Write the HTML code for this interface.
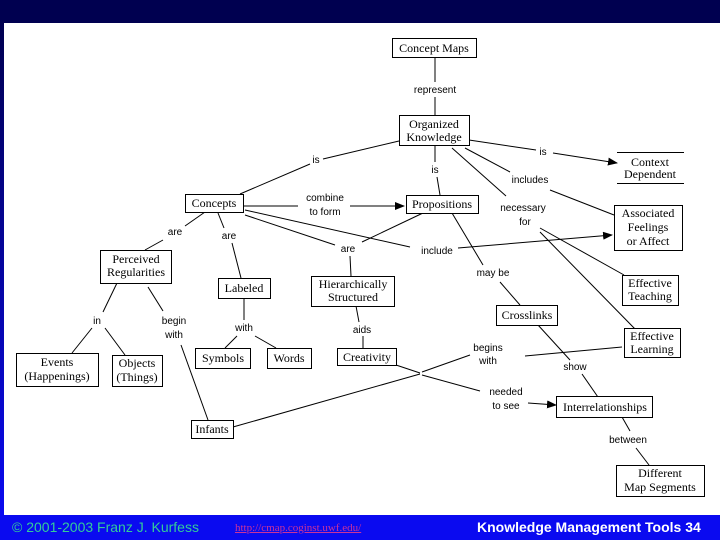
<!DOCTYPE html>
<html><head><meta charset="utf-8"><style>
html,body{margin:0;padding:0;}
body{width:720px;height:540px;overflow:hidden;background:#0a0af0;position:relative;font-family:"Liberation Sans",sans-serif;}
#top{position:absolute;left:0;top:0;width:720px;height:23px;background:#000050;}
#ls{position:absolute;left:0;top:23px;width:5px;height:492px;background:linear-gradient(#000050,#0a0af0);}
#w{position:absolute;left:4px;top:23px;width:716px;height:492px;background:#fff;}
svg{position:absolute;left:0;top:0;}
.f{position:absolute;top:519px;font-size:14px;}
</style></head><body>
<div id="top"></div><div id="ls"></div><div id="w"></div>
<svg width="720" height="540" viewBox="0 0 720 540">
<defs><marker id="a" markerWidth="10" markerHeight="8" refX="9" refY="4" orient="auto" markerUnits="userSpaceOnUse"><path d="M0,0 L10,4 L0,8 z" fill="#000"/></marker></defs>
<g stroke="#000" stroke-width="1" fill="none">
<line x1="435" y1="57" x2="435" y2="82"/><line x1="435" y1="97" x2="435" y2="115"/>
<line x1="399" y1="141" x2="323" y2="159"/><line x1="310" y1="164" x2="240" y2="194"/>
<line x1="435" y1="145" x2="435" y2="162"/><line x1="437" y1="177" x2="440" y2="195"/>
<line x1="469" y1="140" x2="536" y2="150"/><line x1="553" y1="153" x2="617" y2="163" marker-end="url(#a)"/>
<line x1="465" y1="148" x2="510" y2="172"/><line x1="550" y1="190" x2="614" y2="215"/>
<line x1="452" y1="148" x2="506" y2="196"/>
<line x1="540" y1="228" x2="624" y2="275"/><line x1="540" y1="232" x2="636" y2="330"/>
<line x1="243" y1="206" x2="298" y2="206"/><line x1="350" y1="206" x2="404" y2="206" marker-end="url(#a)"/>
<line x1="245" y1="210" x2="410" y2="247"/><line x1="458" y1="248" x2="612" y2="235" marker-end="url(#a)"/>
<line x1="245" y1="215" x2="335" y2="245"/><line x1="423" y1="213" x2="362" y2="242"/>
<line x1="350" y1="256" x2="351" y2="276"/>
<line x1="356" y1="306" x2="359" y2="322"/><line x1="363" y1="336" x2="363" y2="348"/>
<line x1="396" y1="365" x2="420" y2="373"/><line x1="420" y1="374" x2="233" y2="427"/>
<line x1="452" y1="213" x2="483" y2="265"/><line x1="500" y1="282" x2="520" y2="305"/>
<line x1="470" y1="355" x2="422" y2="372"/><line x1="525" y1="356" x2="622" y2="347"/>
<line x1="422" y1="375" x2="480" y2="391"/><line x1="528" y1="403" x2="556" y2="405" marker-end="url(#a)"/>
<line x1="538" y1="325" x2="570" y2="360"/><line x1="582" y1="374" x2="600" y2="400"/>
<line x1="622" y1="417" x2="630" y2="431"/><line x1="636" y1="448" x2="649" y2="465"/>
<line x1="205" y1="212" x2="185" y2="226"/><line x1="163" y1="240" x2="145" y2="250"/>
<line x1="218" y1="213" x2="224" y2="228"/><line x1="232" y1="243" x2="241" y2="278"/>
<line x1="244" y1="298" x2="244" y2="320"/><line x1="237" y1="336" x2="225" y2="348"/><line x1="255" y1="336" x2="276" y2="348"/>
<line x1="117" y1="283" x2="103" y2="312"/><line x1="92" y1="328" x2="72" y2="353"/><line x1="105" y1="328" x2="125" y2="355"/>
<line x1="148" y1="287" x2="163" y2="311"/><line x1="181" y1="345" x2="208" y2="420"/>
</g>
<g stroke="#000" stroke-width="1" fill="#fff">
<rect x="392.5" y="38.5" width="84" height="19"/>
<rect x="399.5" y="115.5" width="70" height="30"/>
<rect x="406.5" y="195.5" width="72" height="18"/>
<rect x="185.5" y="194.5" width="58" height="18"/>
<rect x="614.5" y="205.5" width="68" height="45"/>
<rect x="622.5" y="275.5" width="56" height="30"/>
<rect x="624.5" y="328.5" width="56" height="29"/>
<rect x="100.5" y="250.5" width="71" height="33"/>
<rect x="218.5" y="278.5" width="52" height="20"/>
<rect x="311.5" y="276.5" width="83" height="30"/>
<rect x="337.5" y="348.5" width="59" height="17"/>
<rect x="496.5" y="305.5" width="61" height="20"/>
<rect x="556.5" y="396.5" width="96" height="21"/>
<rect x="616.5" y="465.5" width="88" height="31"/>
<rect x="16.5" y="353.5" width="82" height="33"/>
<rect x="112.5" y="355.5" width="50" height="31"/>
<rect x="195.5" y="348.5" width="55" height="20"/>
<rect x="267.5" y="348.5" width="44" height="20"/>
<rect x="191.5" y="420.5" width="42" height="18"/>
</g>
<line x1="617" y1="152.5" x2="684" y2="152.5" stroke="#000"/><line x1="617" y1="183.5" x2="684" y2="183.5" stroke="#000"/>
<g font-family="Liberation Serif,serif" font-size="12" text-anchor="middle" fill="#000">
<text x="434" y="52">Concept Maps</text>
<text x="434" y="128">Organized</text><text x="434" y="141">Knowledge</text>
<text x="442" y="208">Propositions</text>
<text x="214" y="207">Concepts</text>
<text x="650" y="166">Context</text><text x="650" y="178">Dependent</text>
<text x="648" y="217">Associated</text><text x="648" y="231">Feelings</text><text x="648" y="245">or Affect</text>
<text x="650" y="287">Effective</text><text x="650" y="300">Teaching</text>
<text x="652" y="340">Effective</text><text x="652" y="353">Learning</text>
<text x="136" y="263">Perceived</text><text x="136" y="276">Regularities</text>
<text x="244" y="292">Labeled</text>
<text x="353" y="288">Hierarchically</text><text x="353" y="301">Structured</text>
<text x="367" y="361">Creativity</text>
<text x="527" y="319">Crosslinks</text>
<text x="605" y="411">Interrelationships</text>
<text x="660" y="477">Different</text><text x="660" y="491">Map Segments</text>
<text x="57" y="366">Events</text><text x="57" y="380">(Happenings)</text>
<text x="137" y="367">Objects</text><text x="137" y="381">(Things)</text>
<text x="223" y="362">Symbols</text>
<text x="289" y="362">Words</text>
<text x="212" y="433">Infants</text>
</g>
<g font-family="Liberation Sans,sans-serif" font-size="10" text-anchor="middle" fill="#000">
<text x="435" y="93">represent</text>
<text x="316" y="163">is</text>
<text x="435" y="173">is</text>
<text x="543" y="155">is</text>
<text x="530" y="183">includes</text>
<text x="523" y="211">necessary</text><text x="525" y="225">for</text>
<text x="325" y="201">combine</text><text x="325" y="215">to form</text>
<text x="437" y="254">include</text>
<text x="348" y="252">are</text>
<text x="362" y="333">aids</text>
<text x="493" y="276">may be</text>
<text x="488" y="351">begins</text><text x="488" y="364">with</text>
<text x="575" y="370">show</text>
<text x="506" y="395">needed</text><text x="506" y="409">to see</text>
<text x="628" y="443">between</text>
<text x="175" y="235">are</text>
<text x="229" y="239">are</text>
<text x="244" y="331">with</text>
<text x="97" y="324">in</text>
<text x="174" y="324">begin</text><text x="174" y="338">with</text>
</g>
</svg>
<div class="f" style="left:12px;color:#33cc99;">© 2001-2003 Franz J. Kurfess</div>
<div class="f" style="left:235px;top:522px;color:#cc3399;font-family:'Liberation Serif',serif;font-size:11px;text-decoration:underline;">http://cmap.coginst.uwf.edu/</div>
<div class="f" style="left:477px;color:#fff;font-weight:bold;">Knowledge Management Tools 34</div>
</body></html>
